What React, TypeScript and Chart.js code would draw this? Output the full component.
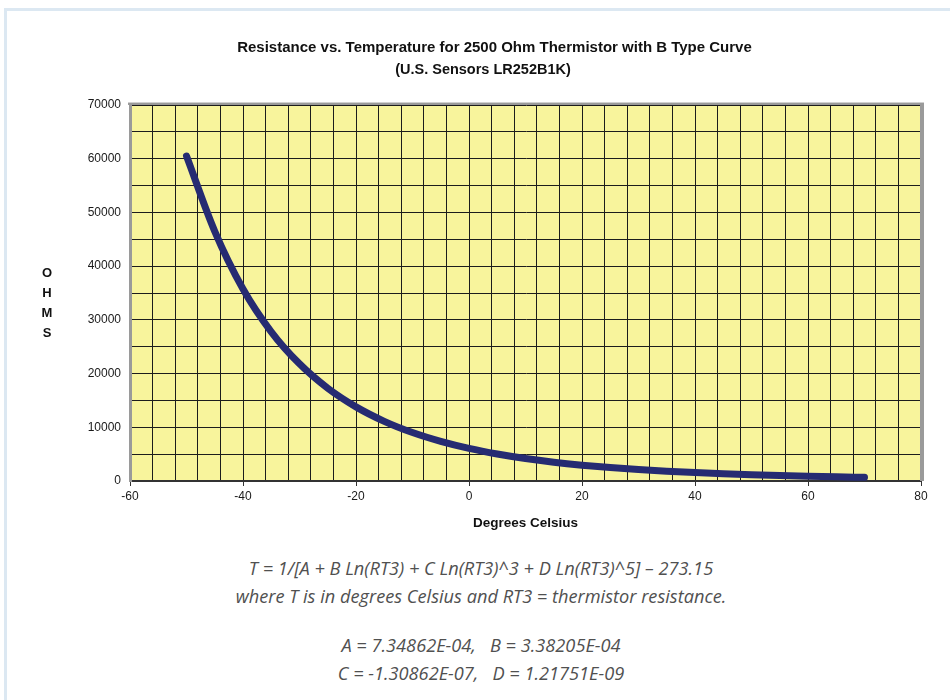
import React, { useEffect, useRef } from "react";
import { Chart, registerables } from "chart.js";

Chart.register(...registerables);

// Degrees Celsius
const temperatures = [-50, -45, -40, -35, -30, -25, -20, -15, -10, -5, 0, 5, 10, 15, 20, 25, 30, 35, 40, 45, 50, 55, 60, 65, 70];
// Ohms
const resistances = [60500, 46480, 35750, 27780, 21810, 17270, 13800, 11110, 9015, 7370, 6060, 5020, 4180, 3500, 2950, 2500, 2130, 1820, 1563, 1348, 1167, 1015, 886, 776, 682];

const xMin = -60;
const xMax = 80;
const xGridStep = 4;
const xLabelStep = 20;
const yMin = 0;
const yMax = 70000;
const yGridStep = 5000;
const yLabelStep = 10000;

const titleText = "Resistance vs. Temperature for 2500 Ohm Thermistor with B Type Curve";
const subtitleText = "(U.S. Sensors LR252B1K)";
const xTitle = "Degrees Celsius";
const yTitleLetters = ["O", "H", "M", "S"];
const formulaLines = [
  "T = 1/[A + B Ln(RT3) + C Ln(RT3)^3 + D Ln(RT3)^5] \u2013 273.15",
  "where T is in degrees Celsius and RT3 = thermistor resistance.",
  "A = 7.34862E-04,\u00a0\u00a0 B = 3.38205E-04",
  "C = -1.30862E-07,\u00a0\u00a0 D = 1.21751E-09",
];

const FONT = "'Liberation Sans', Arial, sans-serif";

const plotDecor = {
  id: "plotDecor",
  beforeDraw(chart: any) {
    const { ctx, chartArea } = chart;
    ctx.save();
    ctx.fillStyle = "#F8F49C";
    ctx.fillRect(chartArea.left, chartArea.top, chartArea.right - chartArea.left, chartArea.bottom - chartArea.top);
    ctx.restore();
  },
  beforeDatasetsDraw(chart: any) {
    const { ctx, chartArea } = chart;
    const { left, right, top, bottom } = chartArea;
    ctx.save();
    ctx.strokeStyle = "#D0D0D0";
    ctx.lineWidth = 1;
    ctx.beginPath();
    ctx.moveTo(left - 2, top - 2.5);
    ctx.lineTo(right + 3, top - 2.5);
    ctx.stroke();
    ctx.strokeStyle = "#9A9A9A";
    ctx.lineWidth = 2;
    ctx.beginPath();
    ctx.moveTo(left - 2, top - 1);
    ctx.lineTo(right + 3, top - 1);
    ctx.stroke();
    ctx.lineWidth = 4;
    ctx.beginPath();
    ctx.moveTo(right + 1, top - 2);
    ctx.lineTo(right + 1, bottom);
    ctx.stroke();
    ctx.restore();
  },
};

function ThermistorChart() {
  const canvasRef = useRef<HTMLCanvasElement | null>(null);

  useEffect(() => {
    if (!canvasRef.current) return;
    const points = temperatures.map((t, i) => ({ x: t, y: resistances[i] }));
    const chart = new Chart(canvasRef.current, {
      type: "line",
      data: {
        datasets: [
          {
            data: points,
            borderColor: "#262B72",
            borderWidth: 7,
            pointRadius: 0,
            tension: 0.4,
            cubicInterpolationMode: "monotone",
            borderCapStyle: "round",
            borderJoinStyle: "round",
            fill: false,
          },
        ],
      },
      options: {
        responsive: false,
        animation: false,
        layout: { padding: { top: 105, right: 29, left: 0, bottom: 0 } },
        plugins: {
          legend: { display: false },
          tooltip: { enabled: false },
          title: { display: false },
        },
        scales: {
          x: {
            type: "linear",
            min: xMin,
            max: xMax,
            afterFit: (s: any) => {
              s.height = 59;
            },
            ticks: {
              stepSize: xGridStep,
              autoSkip: false,
              maxRotation: 0,
              padding: 3,
              color: "#1a1a1a",
              font: { family: FONT, size: 12 },
              callback: (v: any) => (Number(v) % xLabelStep === 0 ? String(v) : ""),
            },
            grid: {
              color: "#1c1c1c",
              lineWidth: 1,
              drawTicks: true,
              tickLength: 5,
              tickColor: (c: any) => (c.tick && c.tick.value % xLabelStep === 0 ? "#333333" : "rgba(0,0,0,0)"),
            },
            border: { color: "#333333", width: 2 },
          },
          y: {
            type: "linear",
            min: yMin,
            max: yMax,
            afterFit: (s: any) => {
              s.width = 130;
            },
            ticks: {
              stepSize: yGridStep,
              autoSkip: false,
              padding: 9,
              color: "#1a1a1a",
              font: { family: FONT, size: 12 },
              callback: (v: any) => (Number(v) % yLabelStep === 0 ? String(v) : ""),
            },
            grid: { color: "#1c1c1c", lineWidth: 1, drawTicks: false },
            border: { color: "#9A9A9A", width: 3 },
          },
        },
      },
      plugins: [plotDecor],
    } as any);
    return () => chart.destroy();
  }, []);

  return <canvas ref={canvasRef} width={950} height={540} style={{ position: "absolute", left: 0, top: 0, width: 950, height: 540 }} />;
}

export default function App() {
  return (
    <div style={{ position: "absolute", left: 0, top: 0, width: 950, height: 700, background: "#ffffff", overflow: "hidden" }}>
      <div
        style={{
          position: "absolute",
          left: 4,
          top: 8,
          width: 946,
          height: 692,
          borderTop: "3px solid #DCE8F2",
          borderLeft: "3px solid #DCE8F2",
          boxSizing: "border-box",
        }}
      />
      <ThermistorChart />
      <div style={{ position: "absolute", left: 0, width: 989, top: 38, lineHeight: "18px", textAlign: "center", font: `bold 15px ${FONT}`, color: "#111", whiteSpace: "pre" }}>{titleText}</div>
      <div style={{ position: "absolute", left: 0, width: 966, top: 61, lineHeight: "18px", textAlign: "center", font: `bold 14.5px ${FONT}`, color: "#111", whiteSpace: "pre" }}>{subtitleText}</div>
      <div style={{ position: "absolute", left: 130, width: 791, top: 515, lineHeight: "18px", textAlign: "center", font: `bold 13.5px ${FONT}`, color: "#111" }}>{xTitle}</div>
      <div style={{ position: "absolute", left: 27, width: 40, top: 263, textAlign: "center", font: `bold 13px ${FONT}`, color: "#111", lineHeight: "20px" }}>
        {yTitleLetters.map((l) => (
          <div key={l}>{l}</div>
        ))}
      </div>
      {formulaLines.map((line, i) => (
        <div
          key={i}
          style={{
            position: "absolute",
            left: 0,
            width: 962,
            top: [556, 584, 633, 661][i],
            lineHeight: "24px",
            textAlign: "center",
            fontFamily: "'Open Sans', sans-serif",
            fontStyle: "italic",
            fontSize: 18.2,
            color: "#505050",
            whiteSpace: "pre",
          }}
        >
          {line}
        </div>
      ))}
    </div>
  );
}
